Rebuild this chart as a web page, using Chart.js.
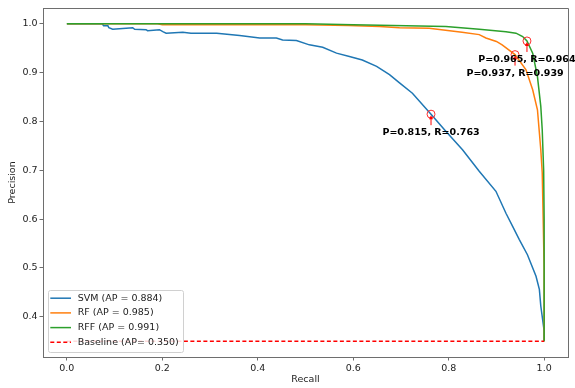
<!DOCTYPE html>
<html><head><meta charset="utf-8">
<script src="https://cdn.jsdelivr.net/npm/chart.js@4.4.0/dist/chart.umd.min.js"></script>
<style>html,body{margin:0;padding:0;background:#fff;}#wrap{width:575px;height:388px;position:relative;}</style>
</head><body><div id="wrap"><canvas id="c"></canvas></div>
<script>
// ---- data ----
const svmRecall    = [0, 0.074, 0.077, 0.086, 0.088, 0.096, 0.138, 0.142, 0.166, 0.169, 0.194, 0.201, 0.208, 0.243, 0.260, 0.268, 0.314, 0.362, 0.404, 0.439, 0.452, 0.481, 0.508, 0.536, 0.565, 0.592, 0.619, 0.649, 0.676, 0.697, 0.724, 0.763, 0.794, 0.829, 0.864, 0.899, 0.920, 0.934, 0.948, 0.965, 0.983, 0.990, 0.993, 1.0, 1.0];
const svmPrecision = [1.0, 1.0, 0.996, 0.996, 0.992, 0.989, 0.992, 0.989, 0.988, 0.986, 0.988, 0.984, 0.981, 0.983, 0.981, 0.981, 0.981, 0.976, 0.971, 0.971, 0.967, 0.966, 0.957, 0.952, 0.940, 0.933, 0.926, 0.913, 0.896, 0.879, 0.858, 0.815, 0.780, 0.742, 0.698, 0.657, 0.612, 0.585, 0.558, 0.527, 0.483, 0.456, 0.422, 0.371, 0.350];
const rfRecall     = [0, 0.19, 0.20, 0.50, 0.59, 0.655, 0.697, 0.759, 0.828, 0.864, 0.878, 0.900, 0.912, 0.939, 0.962, 0.976, 0.986, 0.993, 0.996, 0.998, 1.0, 1.0];
const rfPrecision  = [1.0, 1.0, 0.998, 0.998, 0.9965, 0.9945, 0.992, 0.991, 0.983, 0.978, 0.971, 0.964, 0.957, 0.937, 0.906, 0.865, 0.824, 0.742, 0.695, 0.600, 0.500, 0.350];
const rffRecall    = [0, 0.50, 0.60, 0.794, 0.864, 0.920, 0.941, 0.955, 0.964, 0.976, 0.986, 0.993, 0.996, 0.999, 1.0, 1.0];
const rffPrecision = [1.0, 1.0, 0.998, 0.9945, 0.989, 0.984, 0.981, 0.974, 0.965, 0.940, 0.892, 0.831, 0.783, 0.700, 0.600, 0.350];
const baseRecall    = [0, 1];
const basePrecision = [0.35, 0.35];
const seriesLabels = ['SVM (AP = 0.884)', 'RF (AP = 0.985)', 'RFF (AP = 0.991)', 'Baseline (AP= 0.350)'];
const markRecall    = [0.763, 0.939, 0.964];
const markPrecision = [0.815, 0.937, 0.965];
const xTicks = [0.0, 0.2, 0.4, 0.6, 0.8, 1.0];
const yTicks = [0.4, 0.5, 0.6, 0.7, 0.8, 0.9, 1.0];

const FONT = '"DejaVu Sans", "Liberation Sans", sans-serif';
const pts = (xs, ys) => xs.map((x, i) => ({x: x, y: ys[i]}));
const AX = '#6e6e6e';

const framePlugin = {
  id: 'frame',
  afterDraw(chart) {
    const {ctx, chartArea: ca} = chart;
    ctx.save();
    ctx.strokeStyle = AX; ctx.lineWidth = 1;
    ctx.beginPath();
    ctx.moveTo(Math.round(ca.left) + 0.5, Math.round(ca.top) + 0.5);
    ctx.lineTo(Math.round(ca.right) + 0.5, Math.round(ca.top) + 0.5);
    ctx.lineTo(Math.round(ca.right) + 0.5, Math.round(ca.bottom) + 0.5);
    ctx.stroke();
    ctx.restore();
  }
};

const annotPlugin = {
  id: 'annot',
  afterDatasetsDraw(chart) {
    const {ctx} = chart;
    const xs = chart.scales.x, ys = chart.scales.y;
    ctx.save();
    markRecall.forEach((r, i) => {
      const p = markPrecision[i];
      const px = xs.getPixelForValue(r), py = ys.getPixelForValue(p);
      ctx.strokeStyle = '#ff0000'; ctx.fillStyle = '#ff0000'; ctx.lineWidth = 1;
      ctx.beginPath(); ctx.moveTo(px, py + 11); ctx.lineTo(px, py + 4); ctx.stroke();
      ctx.beginPath(); ctx.moveTo(px, py + 1); ctx.lineTo(px - 2, py + 5); ctx.lineTo(px + 2, py + 5); ctx.closePath(); ctx.fill();
      ctx.fillStyle = '#000';
      ctx.font = 'bold 9.5px ' + FONT;
      ctx.textAlign = 'center'; ctx.textBaseline = 'middle';
      ctx.fillText('P=' + p.toFixed(3) + ', R=' + r.toFixed(3), px, py + 18.5);
    });
    ctx.restore();
  }
};

const legendPlugin = {
  id: 'mplLegend',
  afterDraw(chart) {
    const {ctx, chartArea: ca} = chart;
    const items = chart.data.datasets.filter(d => d.inLegend);
    const fs = 9.5;
    ctx.save();
    ctx.font = fs + 'px ' + FONT;
    let maxW = 0;
    items.forEach(d => { maxW = Math.max(maxW, ctx.measureText(d.label).width); });
    const left = ca.left + 5, bottom = ca.bottom - 5;
    const rowH = 14.7;
    const h = 8.3 + rowH * (items.length - 1) + 9.7;
    const top = bottom - h;
    const textX = left + 29.7;
    const w = 29.7 + maxW + 4;
    ctx.fillStyle = 'rgba(255,255,255,0.85)';
    ctx.strokeStyle = '#d0d0d0'; ctx.lineWidth = 1;
    ctx.beginPath();
    ctx.roundRect(Math.round(left) + 0.5, Math.round(top) + 0.5, Math.round(w), Math.round(h), 2);
    ctx.fill(); ctx.stroke();
    items.forEach((d, i) => {
      const y = top + 8.3 + i * rowH;
      ctx.strokeStyle = d.borderColor; ctx.lineWidth = 1.5;
      ctx.setLineDash(d.borderDash || []);
      ctx.beginPath(); ctx.moveTo(left + 2.3, y); ctx.lineTo(left + 23, y); ctx.stroke();
      ctx.setLineDash([]);
      ctx.fillStyle = '#222';
      ctx.textAlign = 'left'; ctx.textBaseline = 'middle';
      ctx.fillText(d.label, textX, y);
    });
    ctx.restore();
  }
};

const lineDs = (label, xs, ys, color, order, dash) => ({
  label: label, data: pts(xs, ys), showLine: true, borderColor: color, backgroundColor: color,
  borderWidth: 1.5, pointRadius: 0, tension: 0, order: order, borderDash: dash || [], inLegend: true
});

new Chart(document.getElementById('c'), {
  type: 'scatter',
  data: {
    datasets: [
      lineDs(seriesLabels[0], svmRecall, svmPrecision, '#1f77b4', 5),
      lineDs(seriesLabels[1], rfRecall, rfPrecision, '#ff7f0e', 4),
      lineDs(seriesLabels[2], rffRecall, rffPrecision, '#2ca02c', 3),
      lineDs(seriesLabels[3], baseRecall, basePrecision, '#ff0000', 2, [4, 2.5]),
      { label: 'points', data: pts(markRecall, markPrecision), showLine: false, pointRadius: 4,
        pointHoverRadius: 4, pointStyle: 'circle', borderColor: '#ff3030', backgroundColor: 'rgba(0,0,0,0)',
        borderWidth: 1, order: 1, inLegend: false }
    ]
  },
  options: {
    responsive: true, maintainAspectRatio: false, animation: false, devicePixelRatio: 1,
    layout: { padding: { left: 0, right: 7, top: 8, bottom: 0 } },
    plugins: { legend: { display: false }, tooltip: { enabled: false } },
    scales: {
      x: {
        type: 'linear', min: -0.05, max: 1.05,
        afterBuildTicks: s => { s.ticks = xTicks.map(v => ({value: v})); },
        afterFit: s => { s.height = 31; },
        ticks: { callback: v => Number(v).toFixed(1), font: { family: FONT, size: 9.5 }, color: '#222', padding: 2, maxRotation: 0, autoSkip: false },
        grid: { display: true, drawOnChartArea: false, drawTicks: true, tickLength: 3.5, color: AX },
        border: { display: true, color: AX, width: 1 },
        title: { display: true, text: 'Recall', font: { family: FONT, size: 9.5 }, color: '#222', padding: { top: 0, bottom: 3 } }
      },
      y: {
        type: 'linear', min: 0.3175, max: 1.0325,
        afterBuildTicks: s => { s.ticks = yTicks.map(v => ({value: v})); },
        afterFit: s => { s.width = 43; },
        ticks: { callback: v => Number(v).toFixed(1), font: { family: FONT, size: 9.5 }, color: '#222', padding: 2, autoSkip: false },
        grid: { display: true, drawOnChartArea: false, drawTicks: true, tickLength: 3.5, color: AX },
        border: { display: true, color: AX, width: 1 },
        title: { display: true, text: 'Precision', font: { family: FONT, size: 9.5 }, color: '#222', padding: { top: 7, bottom: 0 } }
      }
    }
  },
  plugins: [framePlugin, annotPlugin, legendPlugin]
});
</script></body></html>
